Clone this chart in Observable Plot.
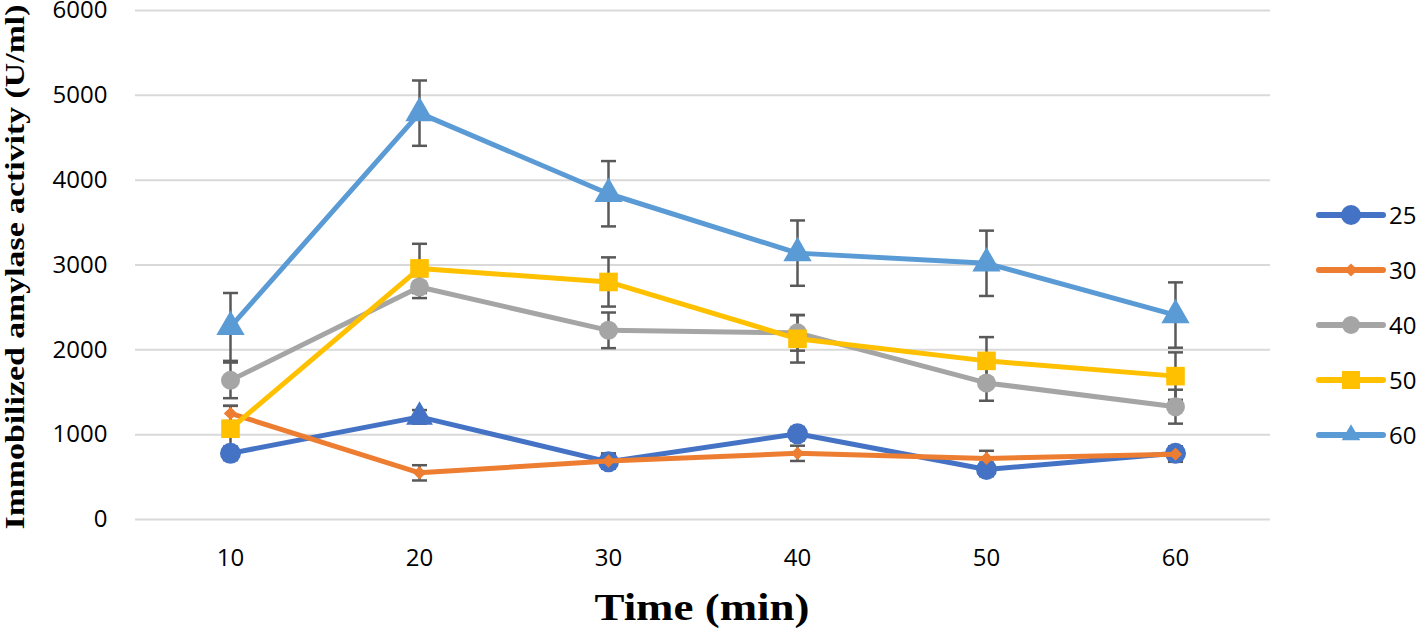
<!DOCTYPE html>
<html>
<head>
<meta charset="utf-8">
<script src="https://cdn.jsdelivr.net/npm/d3@7"></script>
<script src="https://cdn.jsdelivr.net/npm/@observablehq/plot@0.6"></script>
<style>
  html, body { margin: 0; padding: 0; background: #fff; }
  #wrap { position: relative; width: 1418px; height: 636px; overflow: hidden; }
  #legend { position: absolute; left: 1310px; top: 190px; }
</style>
</head>
<body>
<div id="wrap"><div id="chart"></div><div id="legend"></div></div>
<script>
// ---- data ----
const times = [10, 20, 30, 40, 50, 60];
const seriesNames = ["25", "30", "40", "50", "60"];
const seriesColors = ["#4472C4", "#ED7D31", "#A5A5A5", "#FFC000", "#5B9BD5"];
const yTicks = [0, 1000, 2000, 3000, 4000, 5000, 6000];

const v25 = [780, 1210, 680, 1010, 590, 780];
const v30 = [1250, 550, 690, 780, 720, 770];
const v40 = [1640, 2740, 2230, 2200, 1610, 1330];
const v50 = [1070, 2960, 2800, 2130, 1870, 1690];
const v60 = [2270, 4790, 3840, 3140, 3020, 2410];

const e25 = [80, 80, 80, 80, 80, 80];
const e30 = [90, 90, 90, 90, 90, 90];
const e40 = [210, 130, 210, 210, 210, 200];
const e50 = [270, 290, 290, 280, 280, 280];
const e60 = [400, 385, 385, 385, 385, 385];

const m25 = ["circle", "triangle", "circle", "circle", "circle", "circle"];
const m30 = ["diamond2", "diamond2", "diamond2", "diamond2", "diamond2", "diamond2"];
const m40 = ["circle", "circle", "circle", "circle", "circle", "circle"];
const m50 = ["square", "square", "square", "square", "square", "square"];
const m60 = ["triangle", "triangle", "triangle", "triangle", "triangle", "triangle"];

const legendMarkers = ["circle", "diamond2", "circle", "square", "triangle"];

// ---- build table ----
const values = [v25, v30, v40, v50, v60];
const errors = [e25, e30, e40, e50, e60];
const markers = [m25, m30, m40, m50, m60];
const rows = [];
seriesNames.forEach((s, i) => {
  times.forEach((t, j) => {
    rows.push({series: s, si: i, t, v: values[i][j], e: errors[i][j], m: markers[i][j]});
  });
});

const markerR = {circle: 10, triangle: 10.5, square: 10.5, diamond2: 6};
const markerRBySeries = [{circle: 10.5, triangle: 10}, {diamond2: 6}, {circle: 9.5}, {square: 10.5}, {triangle: 10.5}];

const capSymbol = {draw(ctx, size) { ctx.moveTo(-7.5, 0); ctx.lineTo(7.5, 0); }};

const marks = [
  Plot.ruleY(yTicks, {stroke: "#d9d9d9", strokeWidth: 2})
];
// error bars
marks.push(Plot.ruleX(rows, {x: "t", y1: d => d.v - d.e, y2: d => d.v + d.e, stroke: "#595959", strokeWidth: 2.5}));
marks.push(Plot.dot(rows, {x: "t", y: d => d.v + d.e, symbol: capSymbol, r: 3, fill: "none", stroke: "#595959", strokeWidth: 2.5}));
marks.push(Plot.dot(rows, {x: "t", y: d => d.v - d.e, symbol: capSymbol, r: 3, fill: "none", stroke: "#595959", strokeWidth: 2.5}));

seriesNames.forEach((s, i) => {
  const data = rows.filter(d => d.si === i);
  marks.push(Plot.line(data, {x: "t", y: "v", stroke: seriesColors[i], strokeWidth: 5, strokeLinejoin: "round", strokeLinecap: "round"}));
  const syms = Array.from(new Set(data.map(d => d.m)));
  syms.forEach(sym => {
    marks.push(Plot.dot(data.filter(d => d.m === sym), {
      x: "t", y: "v", symbol: sym,
      r: (markerRBySeries[i][sym] || markerR[sym]),
      fill: seriesColors[i], stroke: "none"
    }));
  });
});

const chart = Plot.plot({
  width: 1418,
  height: 636,
  marginTop: 10,
  marginRight: 148,
  marginBottom: 117,
  marginLeft: 135,
  style: {fontFamily: "'Open Sans', sans-serif", fontSize: "24px", color: "#000", background: "#fff"},
  x: {type: "point", domain: times, padding: 0.5, tickSize: 0, tickPadding: 29, label: null},
  y: {domain: [0, 6000], ticks: yTicks, tickSize: 0, tickPadding: 28, label: null, tickFormat: d => String(d)},
  marks
});
document.getElementById("chart").appendChild(chart);

// axis titles
const svg = d3.select(chart);
svg.append("text")
  .attr("transform", "translate(24,267) rotate(-90)")
  .attr("text-anchor", "middle")
  .attr("textLength", 525)
  .attr("lengthAdjust", "spacingAndGlyphs")
  .style("font-family", "'Liberation Serif', 'Times New Roman', serif")
  .style("font-weight", "bold")
  .style("font-size", "28px")
  .attr("fill", "#000")
  .text("Immobilized amylase activity (U/ml)");
svg.append("text")
  .attr("x", 702)
  .attr("y", 620)
  .attr("text-anchor", "middle")
  .attr("textLength", 215)
  .attr("lengthAdjust", "spacingAndGlyphs")
  .style("font-family", "'Liberation Serif', 'Times New Roman', serif")
  .style("font-weight", "bold")
  .style("font-size", "38px")
  .attr("fill", "#000")
  .text("Time (min)");

// legend
const symMap = {circle: d3.symbolCircle, diamond2: d3.symbolDiamond2, square: d3.symbolSquare, triangle: d3.symbolTriangle};
const legendSize = {circle: Math.PI * 100, diamond2: 110, square: 324, triangle: 150};
const lsvg = d3.select("#legend").append("svg").attr("width", 108).attr("height", 270)
  .style("font-family", "'Open Sans', sans-serif").style("font-size", "24px");
seriesNames.forEach((s, i) => {
  const g = lsvg.append("g").attr("transform", `translate(0,${25 + i * 55})`);
  g.append("line").attr("x1", 9).attr("x2", 73).attr("y1", 0).attr("y2", 0)
    .attr("stroke", seriesColors[i]).attr("stroke-width", 6).attr("stroke-linecap", "round");
  const sz = (i === 2) ? Math.PI * 81 : legendSize[legendMarkers[i]];
  g.append("path").attr("transform", "translate(41,0)")
    .attr("d", d3.symbol(symMap[legendMarkers[i]], sz)())
    .attr("fill", seriesColors[i]);
  g.append("text").attr("x", 79).attr("y", 0).attr("dy", "0.36em").attr("fill", "#000").text(s);
});
</script>
</body>
</html>
